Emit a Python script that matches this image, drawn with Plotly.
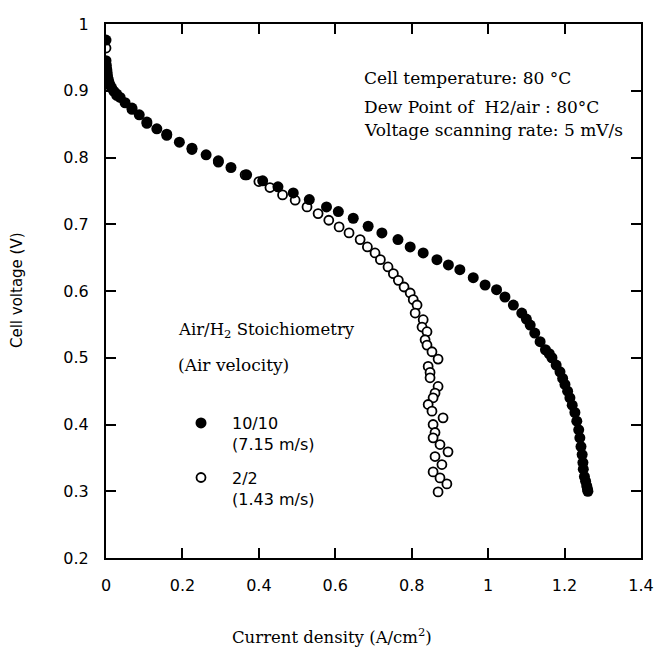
import plotly.graph_objects as go

# 10/10 stoichiometry (7.15 m/s) - filled circles
x_1010 = [0.000, 0.000, 0.001, 0.002, 0.003, 0.004, 0.006, 0.008, 0.011, 0.015,
          0.021, 0.028, 0.037, 0.050, 0.068, 0.087, 0.107, 0.133, 0.159, 0.192,
          0.225, 0.262, 0.294, 0.327, 0.368, 0.410, 0.450, 0.490, 0.532, 0.577,
          0.608, 0.647, 0.686, 0.722, 0.764, 0.796, 0.830, 0.866, 0.896, 0.926,
          0.961, 0.992, 1.022, 1.044, 1.066, 1.088, 1.100, 1.110, 1.122, 1.136,
          1.150, 1.160, 1.167, 1.178, 1.188, 1.195, 1.201, 1.208, 1.214, 1.220,
          1.227, 1.232, 1.237, 1.240, 1.243, 1.246, 1.248, 1.249, 1.252, 1.255,
          1.258, 1.260, 1.261]
y_1010 = [0.976, 0.945, 0.938, 0.932, 0.927, 0.922, 0.917, 0.912, 0.908, 0.904,
          0.899, 0.895, 0.890, 0.882, 0.874, 0.864, 0.853, 0.843, 0.835, 0.823,
          0.814, 0.804, 0.795, 0.785, 0.774, 0.765, 0.756, 0.747, 0.737, 0.726,
          0.719, 0.709, 0.697, 0.687, 0.677, 0.666, 0.657, 0.647, 0.639, 0.632,
          0.620, 0.609, 0.602, 0.591, 0.579, 0.567, 0.558, 0.549, 0.537, 0.524,
          0.512, 0.506, 0.500, 0.489, 0.479, 0.469, 0.460, 0.450, 0.440, 0.429,
          0.418, 0.405, 0.392, 0.380, 0.367, 0.355, 0.343, 0.333, 0.322, 0.315,
          0.308, 0.303, 0.300]

# 2/2 stoichiometry (1.43 m/s) - open circles
x_22 = [0.000, 0.002, 0.008, 0.028, 0.068, 0.107, 0.159, 0.225, 0.294,
        0.364, 0.400, 0.429, 0.462, 0.495, 0.526, 0.555, 0.583, 0.610, 0.636,
        0.665, 0.684, 0.704, 0.718, 0.738, 0.752, 0.765, 0.780, 0.796, 0.804,
        0.814, 0.809, 0.830, 0.827, 0.840, 0.835, 0.840, 0.853, 0.869, 0.843,
        0.848, 0.848, 0.869, 0.861, 0.856, 0.843, 0.853, 0.882, 0.856, 0.861,
        0.856, 0.874, 0.895, 0.861, 0.879, 0.856, 0.874, 0.892, 0.869]
y_22 = [0.964, 0.930, 0.910, 0.893, 0.872, 0.851, 0.833, 0.812, 0.793,
        0.774, 0.764, 0.755, 0.744, 0.736, 0.726, 0.716, 0.706, 0.696, 0.687,
        0.677, 0.666, 0.657, 0.647, 0.636, 0.626, 0.616, 0.606, 0.597, 0.587,
        0.579, 0.567, 0.557, 0.546, 0.539, 0.527, 0.519, 0.509, 0.498, 0.487,
        0.478, 0.470, 0.457, 0.447, 0.440, 0.430, 0.420, 0.410, 0.400, 0.388,
        0.380, 0.370, 0.359, 0.352, 0.340, 0.329, 0.320, 0.311, 0.299]

name_1010 = "10/10<br>(7.15 m/s)"
name_22 = "2/2<br>(1.43 m/s)"

x_ticks = [0, 0.2, 0.4, 0.6, 0.8, 1.0, 1.2, 1.4]
x_ticktext = ["0", "0.2", "0.4", "0.6", "0.8", "1", "1.2", "1.4"]
y_ticks = [0.2, 0.3, 0.4, 0.5, 0.6, 0.7, 0.8, 0.9, 1.0]
y_ticktext = ["0.2", "0.3", "0.4", "0.5", "0.6", "0.7", "0.8", "0.9", "1"]

notes = ["Cell temperature: 80 °C",
         "Dew Point of\u00a0\u00a0H2/air : 80°C",
         "Voltage scanning rate: 5 mV/s"]

SANS = "DejaVu Sans, Arial, sans-serif"
SERIF = "DejaVu Serif, Times New Roman, serif"

# plot area spans window x 106..641, y 24..558
def px(wx):
    return (wx - 106) / 535

def py(wy):
    return (558 - wy) / 534

fig = go.Figure()
fig.add_trace(go.Scatter(
    x=x_22, y=y_22, mode="markers", name=name_22, legendgroup="b", legendrank=2,
    marker=dict(symbol="circle", size=9, color="white",
                line=dict(color="black", width=1.8))))
fig.add_trace(go.Scatter(
    x=x_1010, y=y_1010, mode="markers", name=name_1010, legendgroup="a", legendrank=1,
    marker=dict(symbol="circle", size=11, color="black",
                line=dict(color="black", width=0))))

axis_common = dict(showline=True, linecolor="black", linewidth=2, mirror="ticks",
                   ticks="inside", ticklen=10, tickwidth=2, tickcolor="black",
                   showgrid=False, zeroline=False, automargin=False,
                   tickfont=dict(family=SANS, size=16, color="black"))

fig.update_xaxes(range=[0, 1.4], tickvals=x_ticks, ticktext=x_ticktext,
                 ticklabelstandoff=12, **axis_common)
fig.update_yaxes(range=[0.2, 1.0], tickvals=y_ticks, ticktext=y_ticktext,
                 ticklabelstandoff=12, **axis_common)

annotations = []
for t, wy in zip(notes, [78, 107, 130]):
    annotations.append(dict(text=t, xref="paper", yref="paper",
                            x=px(362), y=py(wy),
                            xanchor="left", yanchor="middle", showarrow=False,
                            font=dict(family=SERIF, size=17, color="black")))
annotations.append(dict(text="Air/H<sub>2</sub> Stoichiometry", xref="paper", yref="paper",
                        x=px(176), y=py(330), xanchor="left",
                        yanchor="middle", showarrow=False,
                        font=dict(family=SERIF, size=16.5, color="black")))
annotations.append(dict(text="(Air velocity)", xref="paper", yref="paper",
                        x=px(176), y=py(365), xanchor="left",
                        yanchor="middle", showarrow=False,
                        font=dict(family=SERIF, size=17, color="black")))
annotations.append(dict(text="Current density (A/cm<sup>2</sup>)", xref="paper", yref="paper",
                        x=px(332), y=py(636), xanchor="center",
                        yanchor="middle", showarrow=False,
                        font=dict(family=SERIF, size=16.5, color="black")))
annotations.append(dict(text="Cell voltage (V)", xref="paper", yref="paper",
                        x=px(17), y=py(290), xanchor="center",
                        yanchor="middle", showarrow=False, textangle=-90,
                        font=dict(family=SANS, size=15, color="black")))

fig.update_layout(
    width=655, height=648,
    margin=dict(l=106, r=14, t=24, b=90, autoexpand=False),
    paper_bgcolor="white", plot_bgcolor="white",
    showlegend=True,
    legend=dict(x=px(170), y=py(406), xanchor="left", yanchor="top",
                bgcolor="rgba(0,0,0,0)", borderwidth=0, itemwidth=52,
                valign="top", tracegroupgap=10, traceorder="grouped",
                font=dict(family=SANS, size=16, color="black")),
    annotations=annotations,
)

fig.write_html("out.html", config={"displayModeBar": False},
               post_script="document.body.style.margin='0';document.body.style.overflow='hidden';")
